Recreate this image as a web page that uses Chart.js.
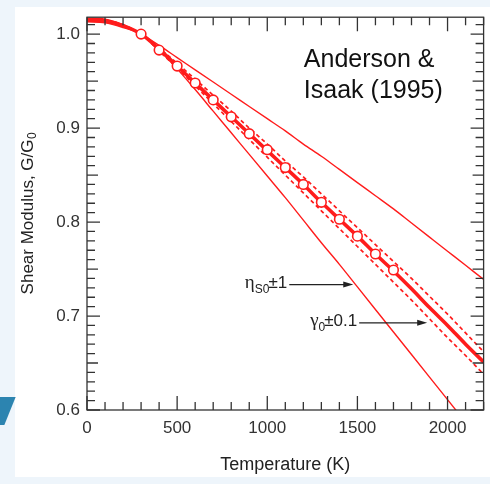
<!DOCTYPE html>
<html><head><meta charset="utf-8">
<script src="https://cdn.jsdelivr.net/npm/chart.js@4/dist/chart.umd.min.js"></script>
<style>
html,body{margin:0;padding:0;background:#eef5fb;width:490px;height:484px;overflow:hidden;}
#panel{position:absolute;left:15px;top:7px;width:480px;height:470px;background:#fff;}
#deco{position:absolute;left:-10px;top:397px;width:20px;height:28px;background:#2c84b0;transform:skewX(-22deg);}
#wrap{position:absolute;left:0;top:0;width:490px;height:484px;}
</style></head><body>
<div id="panel"></div><div id="deco"></div>
<div id="wrap"><canvas id="c" width="490" height="484"></canvas></div>
<script>
// ---- data ----
const temps   = [0,100,200,300,400,500,600,700,800,900,1000,1100,1200,1300,1400,1500,1600,1700,1800,1900,2000,2100,2200];
const gModel  = [1.015,1.014,1.009,1.000,0.984,0.966,0.948,0.930,0.912,0.894,0.876,0.858,0.840,0.821,0.803,0.785,0.766,0.748,0.729,0.709,0.690,0.670,0.651];
const gDashHi = [1.016,1.015,1.010,1.000,0.985,0.969,0.952,0.935,0.918,0.900,0.883,0.865,0.848,0.830,0.812,0.794,0.776,0.758,0.740,0.721,0.702,0.682,0.662];
const gDashLo = [1.014,1.013,1.008,1.000,0.982,0.964,0.945,0.926,0.907,0.888,0.869,0.850,0.831,0.812,0.793,0.774,0.755,0.736,0.717,0.697,0.677,0.658,0.638];
const gEtaHi  = [1.017,1.016,1.010,1.000,0.988,0.975,0.962,0.949,0.936,0.923,0.910,0.897,0.883,0.870,0.856,0.842,0.828,0.814,0.799,0.784,0.769,0.754,0.739];
const gEtaLo  = [1.013,1.012,1.007,1.000,0.983,0.963,0.941,0.918,0.895,0.872,0.849,0.826,0.802,0.778,0.755,0.731,0.707,0.683,0.659,0.635,0.611,0.587,0.563];
const obsT    = [300,400,500,600,700,800,900,1000,1100,1200,1300,1400,1500,1600,1700];
const obsG    = [1.000,0.983,0.966,0.948,0.930,0.912,0.894,0.877,0.858,0.840,0.821,0.803,0.785,0.766,0.749];
const xTicks  = [0,500,1000,1500,2000];
const yTicks  = [0.6,0.7,0.8,0.9,1.0];
const xTitle  = 'Temperature (K)';
const yTitleMain = 'Shear Modulus, G/G';
const yTitleSub  = '0';
const sourceText = ['Anderson &','Isaak (1995)'];

// ---- styling / annotation placement ----
const RED = 'rgb(255,28,28)';
const SANS = '"Liberation Sans", Arial, Helvetica, sans-serif';
const SERIF = '"Liberation Serif", "Times New Roman", serif';
const notes = {
  source: {x: 1203, y: 0.9655, gap: 31},
  eta:   {tipX: 1477, tipY: 0.7335, len: 64},
  gamma: {tipX: 1887, tipY: 0.6928, len: 68},
  yTitleX: 28
};

const pts = arr => temps.map((t,i)=>({x:t,y:arr[i]}));
const lineDs = (arr, w, dash) => ({data: pts(arr), showLine: true, borderColor: RED, borderWidth: w,
  borderDash: dash || [], pointRadius: 0, cubicInterpolationMode: 'monotone', fill: false});

const framePlugin = {
  id: 'frame',
  afterDatasetsDraw(chart) {
    const {ctx, chartArea: a, scales: {x, y}} = chart;
    ctx.save();
    ctx.strokeStyle = '#333';
    ctx.lineWidth = 1.3;
    ctx.strokeRect(a.left, a.top, a.right - a.left, a.bottom - a.top);
    ctx.beginPath();
    for (let k = 0; k * 100 <= x.max + 1e-6; k++) {
      const px = x.getPixelForValue(k * 100);
      const len = k % 5 === 0 ? 14 : 8;
      ctx.moveTo(px, a.bottom); ctx.lineTo(px, a.bottom - len);
      ctx.moveTo(px, a.top); ctx.lineTo(px, a.top + len);
    }
    for (let k = 0; 0.6 + k * 0.01 <= y.max + 1e-9; k++) {
      const py = y.getPixelForValue(0.6 + k * 0.01);
      const len = k % 10 === 0 ? 13 : (k % 5 === 0 ? 11 : 8);
      ctx.moveTo(a.left, py); ctx.lineTo(a.left + len, py);
      ctx.moveTo(a.right, py); ctx.lineTo(a.right - len, py);
    }
    ctx.stroke();
    ctx.restore();
  },
  afterDraw(chart) {
    const {ctx, chartArea: a, scales: {x, y}} = chart;
    ctx.save();
    // y-axis title with a real subscript
    ctx.font = '17px ' + SANS;
    const wm = ctx.measureText(yTitleMain).width;
    ctx.font = '12px ' + SANS;
    const ws = ctx.measureText(yTitleSub).width;
    ctx.save();
    ctx.translate(notes.yTitleX, (a.top + a.bottom) / 2);
    ctx.rotate(-Math.PI / 2);
    ctx.fillStyle = '#222';
    ctx.textBaseline = 'middle';
    ctx.textAlign = 'left';
    const start = -(wm + ws) / 2;
    ctx.font = '17px ' + SANS; ctx.fillText(yTitleMain, start, 0);
    ctx.font = '12px ' + SANS; ctx.fillText(yTitleSub, start + wm + 0.5, 5);
    ctx.restore();

    ctx.fillStyle = '#111';
    ctx.font = '25px ' + SANS;
    ctx.textAlign = 'left';
    ctx.textBaseline = 'alphabetic';
    const sx = x.getPixelForValue(notes.source.x), sy = y.getPixelForValue(notes.source.y);
    sourceText.forEach((t, i) => ctx.fillText(t, sx, sy + i * notes.source.gap));

    function label(n, greek, sub, rest) {
      const tipX = x.getPixelForValue(n.tipX), tipY = y.getPixelForValue(n.tipY);
      const tail = tipX - n.len;
      ctx.font = '19px ' + SERIF; const w1 = ctx.measureText(greek).width;
      ctx.font = '12px ' + SANS;  const w2 = ctx.measureText(sub).width;
      ctx.font = '17px ' + SANS;  const w3 = ctx.measureText(rest).width;
      let cx = tail - 2 - (w1 + w2 - 1 + w3);
      const base = tipY + 3;
      ctx.fillStyle = '#222';
      ctx.font = '19px ' + SERIF; ctx.fillText(greek, cx, base); cx += w1;
      ctx.font = '12px ' + SANS;  ctx.fillText(sub, cx, base + 5); cx += w2 - 1;
      ctx.font = '17px ' + SANS;  ctx.fillText(rest, cx, base);
      ctx.strokeStyle = '#222'; ctx.lineWidth = 1.2;
      ctx.beginPath(); ctx.moveTo(tail, tipY); ctx.lineTo(tipX - 8, tipY); ctx.stroke();
      ctx.beginPath(); ctx.moveTo(tipX, tipY); ctx.lineTo(tipX - 10, tipY - 3); ctx.lineTo(tipX - 10, tipY + 3); ctx.closePath(); ctx.fill();
    }
    label(notes.eta, '\u03b7', 'S0', '\u00b11');
    label(notes.gamma, '\u03b3', '0', '\u00b10.1');
    ctx.restore();
  }
};

// Chart.js draws dataset 0 on top, so the observed points come first.
new Chart(document.getElementById('c'), {
  type: 'scatter',
  data: {
    datasets: [
      {data: obsT.map((t,i)=>({x:t,y:obsG[i]})), showLine: false, pointRadius: 4.8, pointBorderWidth: 1.6,
       pointBackgroundColor: '#fff', pointBorderColor: RED, borderColor: RED, backgroundColor: '#fff'},
      lineDs(gModel, 3.6),
      lineDs(gDashHi, 1.7, [4, 3]),
      lineDs(gDashLo, 1.7, [4, 3]),
      lineDs(gEtaHi, 1.4),
      lineDs(gEtaLo, 1.4)
    ]
  },
  options: {
    responsive: false, animation: false, devicePixelRatio: 1,
    layout: {padding: {top: 10, right: 1, left: 0, bottom: 0}},
    plugins: {legend: {display: false}, tooltip: {enabled: false}},
    scales: {
      x: {
        type: 'linear', min: 0, max: 2200,
        afterFit: s => { s.height = 74; },
        afterBuildTicks: s => { s.ticks = xTicks.map(v => ({value: v})); },
        grid: {display: false, drawTicks: false}, border: {display: false},
        ticks: {color: '#333', font: {family: SANS, size: 17}, padding: 8, maxRotation: 0, callback: v => String(v)},
        title: {display: true, text: xTitle, color: '#222', font: {family: SANS, size: 18}, padding: {top: 0, bottom: 8}}
      },
      y: {
        type: 'linear', min: 0.6, max: 1.018,
        afterFit: s => { s.width = 87; },
        afterBuildTicks: s => { s.ticks = yTicks.map(v => ({value: v})); },
        grid: {display: false, drawTicks: false}, border: {display: false},
        ticks: {color: '#333', font: {family: SANS, size: 17}, padding: 7, callback: v => Number(v).toFixed(1)},
        title: {display: false}
      }
    }
  },
  plugins: [framePlugin]
});
</script>
</body></html>
